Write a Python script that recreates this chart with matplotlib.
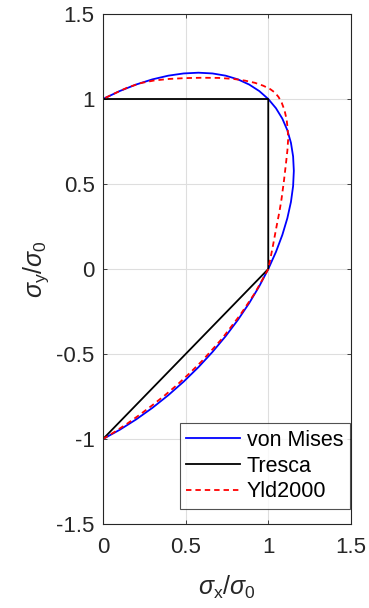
import matplotlib
matplotlib.use("Agg")
import matplotlib.pyplot as plt

plt.rcParams['font.family'] = ['Liberation Sans', 'DejaVu Sans']
plt.rcParams['mathtext.fontset'] = 'custom'
plt.rcParams['mathtext.rm'] = 'Liberation Sans'
plt.rcParams['mathtext.it'] = 'Liberation Sans:italic'
plt.rcParams['axes.unicode_minus'] = False

# von Mises yield locus (sigma_x >= 0 part)
vm_x = [0.0, 0.1006, 0.2005, 0.2989, 0.3949, 0.4880, 0.5774, 0.6623, 0.7422, 0.8165,
        0.8846, 0.9459, 1.0, 1.0465, 1.0851, 1.1154, 1.1372, 1.1503, 1.1547, 1.1503,
        1.1372, 1.1154, 1.0851, 1.0465, 1.0, 0.9459, 0.8846, 0.8165, 0.7422, 0.6623,
        0.5774, 0.4880, 0.3949, 0.2989, 0.2005, 0.1006, 0.0]
vm_y = [-1.0, -0.9459, -0.8846, -0.8165, -0.7422, -0.6623, -0.5774, -0.4880, -0.3949,
        -0.2989, -0.2005, -0.1006, 0.0, 0.1006, 0.2005, 0.2989, 0.3949, 0.4880, 0.5774,
        0.6623, 0.7422, 0.8165, 0.8846, 0.9459, 1.0, 1.0465, 1.0851, 1.1154, 1.1372,
        1.1503, 1.1547, 1.1503, 1.1372, 1.1154, 1.0851, 1.0465, 1.0]

# Tresca
tr_x = [0.0, 1.0, 1.0, 0.0]
tr_y = [-1.0, 0.0, 1.0, 1.0]

# Yld2000
yl_x = [0.0, 0.075, 0.15, 0.225, 0.30, 0.375, 0.45, 0.525, 0.60, 0.66, 0.72, 0.775,
        0.83, 0.875, 0.92, 0.96, 1.0, 1.025, 1.05, 1.068, 1.08, 1.095, 1.107, 1.116,
        1.12, 1.118, 1.111, 1.098, 1.081, 1.062, 1.04, 1.012, 0.97, 0.92, 0.86, 0.79,
        0.70, 0.60, 0.50, 0.40, 0.31, 0.23, 0.15, 0.08, 0.0]
yl_y = [-1.0, -0.955, -0.907, -0.855, -0.80, -0.742, -0.68, -0.612, -0.54, -0.475,
        -0.41, -0.34, -0.27, -0.205, -0.14, -0.07, 0.0, 0.12, 0.25, 0.34, 0.41, 0.52,
        0.62, 0.70, 0.76, 0.82, 0.88, 0.935, 0.979, 1.012, 1.038, 1.058, 1.078, 1.095,
        1.108, 1.118, 1.124, 1.125, 1.123, 1.118, 1.109, 1.094, 1.068, 1.037, 1.0]

ticks = [0, 0.5, 1, 1.5]
tick_labels = ['0', '0.5', '1', '1.5']
yticks = [-1.5, -1, -0.5, 0, 0.5, 1, 1.5]
ytick_labels = ['-1.5', '-1', '-0.5', '0', '0.5', '1', '1.5']

fig = plt.figure(figsize=(3.69, 6.08), dpi=100)
ax = fig.add_axes([0.279, 0.138, 0.672, 0.839])

ax.plot(vm_x, vm_y, color='#0000ff', lw=1.3, label='von Mises')
ax.plot(tr_x, tr_y, color='black', lw=1.3, label='Tresca')
ax.plot(yl_x, yl_y, color='#ff0000', lw=1.3, ls=(0, (3, 2.2)), label='Yld2000')

ax.set_xlim(0, 1.5)
ax.set_ylim(-1.5, 1.5)
ax.set_xticks(ticks)
ax.set_xticklabels(tick_labels)
ax.set_yticks(yticks)
ax.set_yticklabels(ytick_labels)
ax.grid(True, color='#dedede', lw=0.8)
ax.set_axisbelow(True)
ax.tick_params(direction='in', top=True, right=True, labelsize=16,
               colors='#262626', length=3, width=0.6, pad=6)
ax.tick_params(axis='x', pad=9)
for s in ax.spines.values():
    s.set_color('#262626')
    s.set_linewidth(0.8)

ax.set_xlabel(r'$\sigma_{\rm x}/\sigma_{\rm 0}$', fontsize=18, color='#262626', labelpad=12)
ax.set_ylabel(r'$\sigma_{\rm y}/\sigma_{\rm 0}$', fontsize=18, color='#262626', labelpad=4)

leg = ax.legend(loc='lower right', fontsize=15.5, frameon=True, fancybox=False,
                handlelength=2.5, handletextpad=0.3, borderpad=0.3, labelspacing=0.22,
                borderaxespad=0.0, bbox_to_anchor=(0.995, 0.03))
leg.get_frame().set_edgecolor('#262626')
leg.get_frame().set_linewidth(0.8)

fig.savefig('out.png', dpi=100)
